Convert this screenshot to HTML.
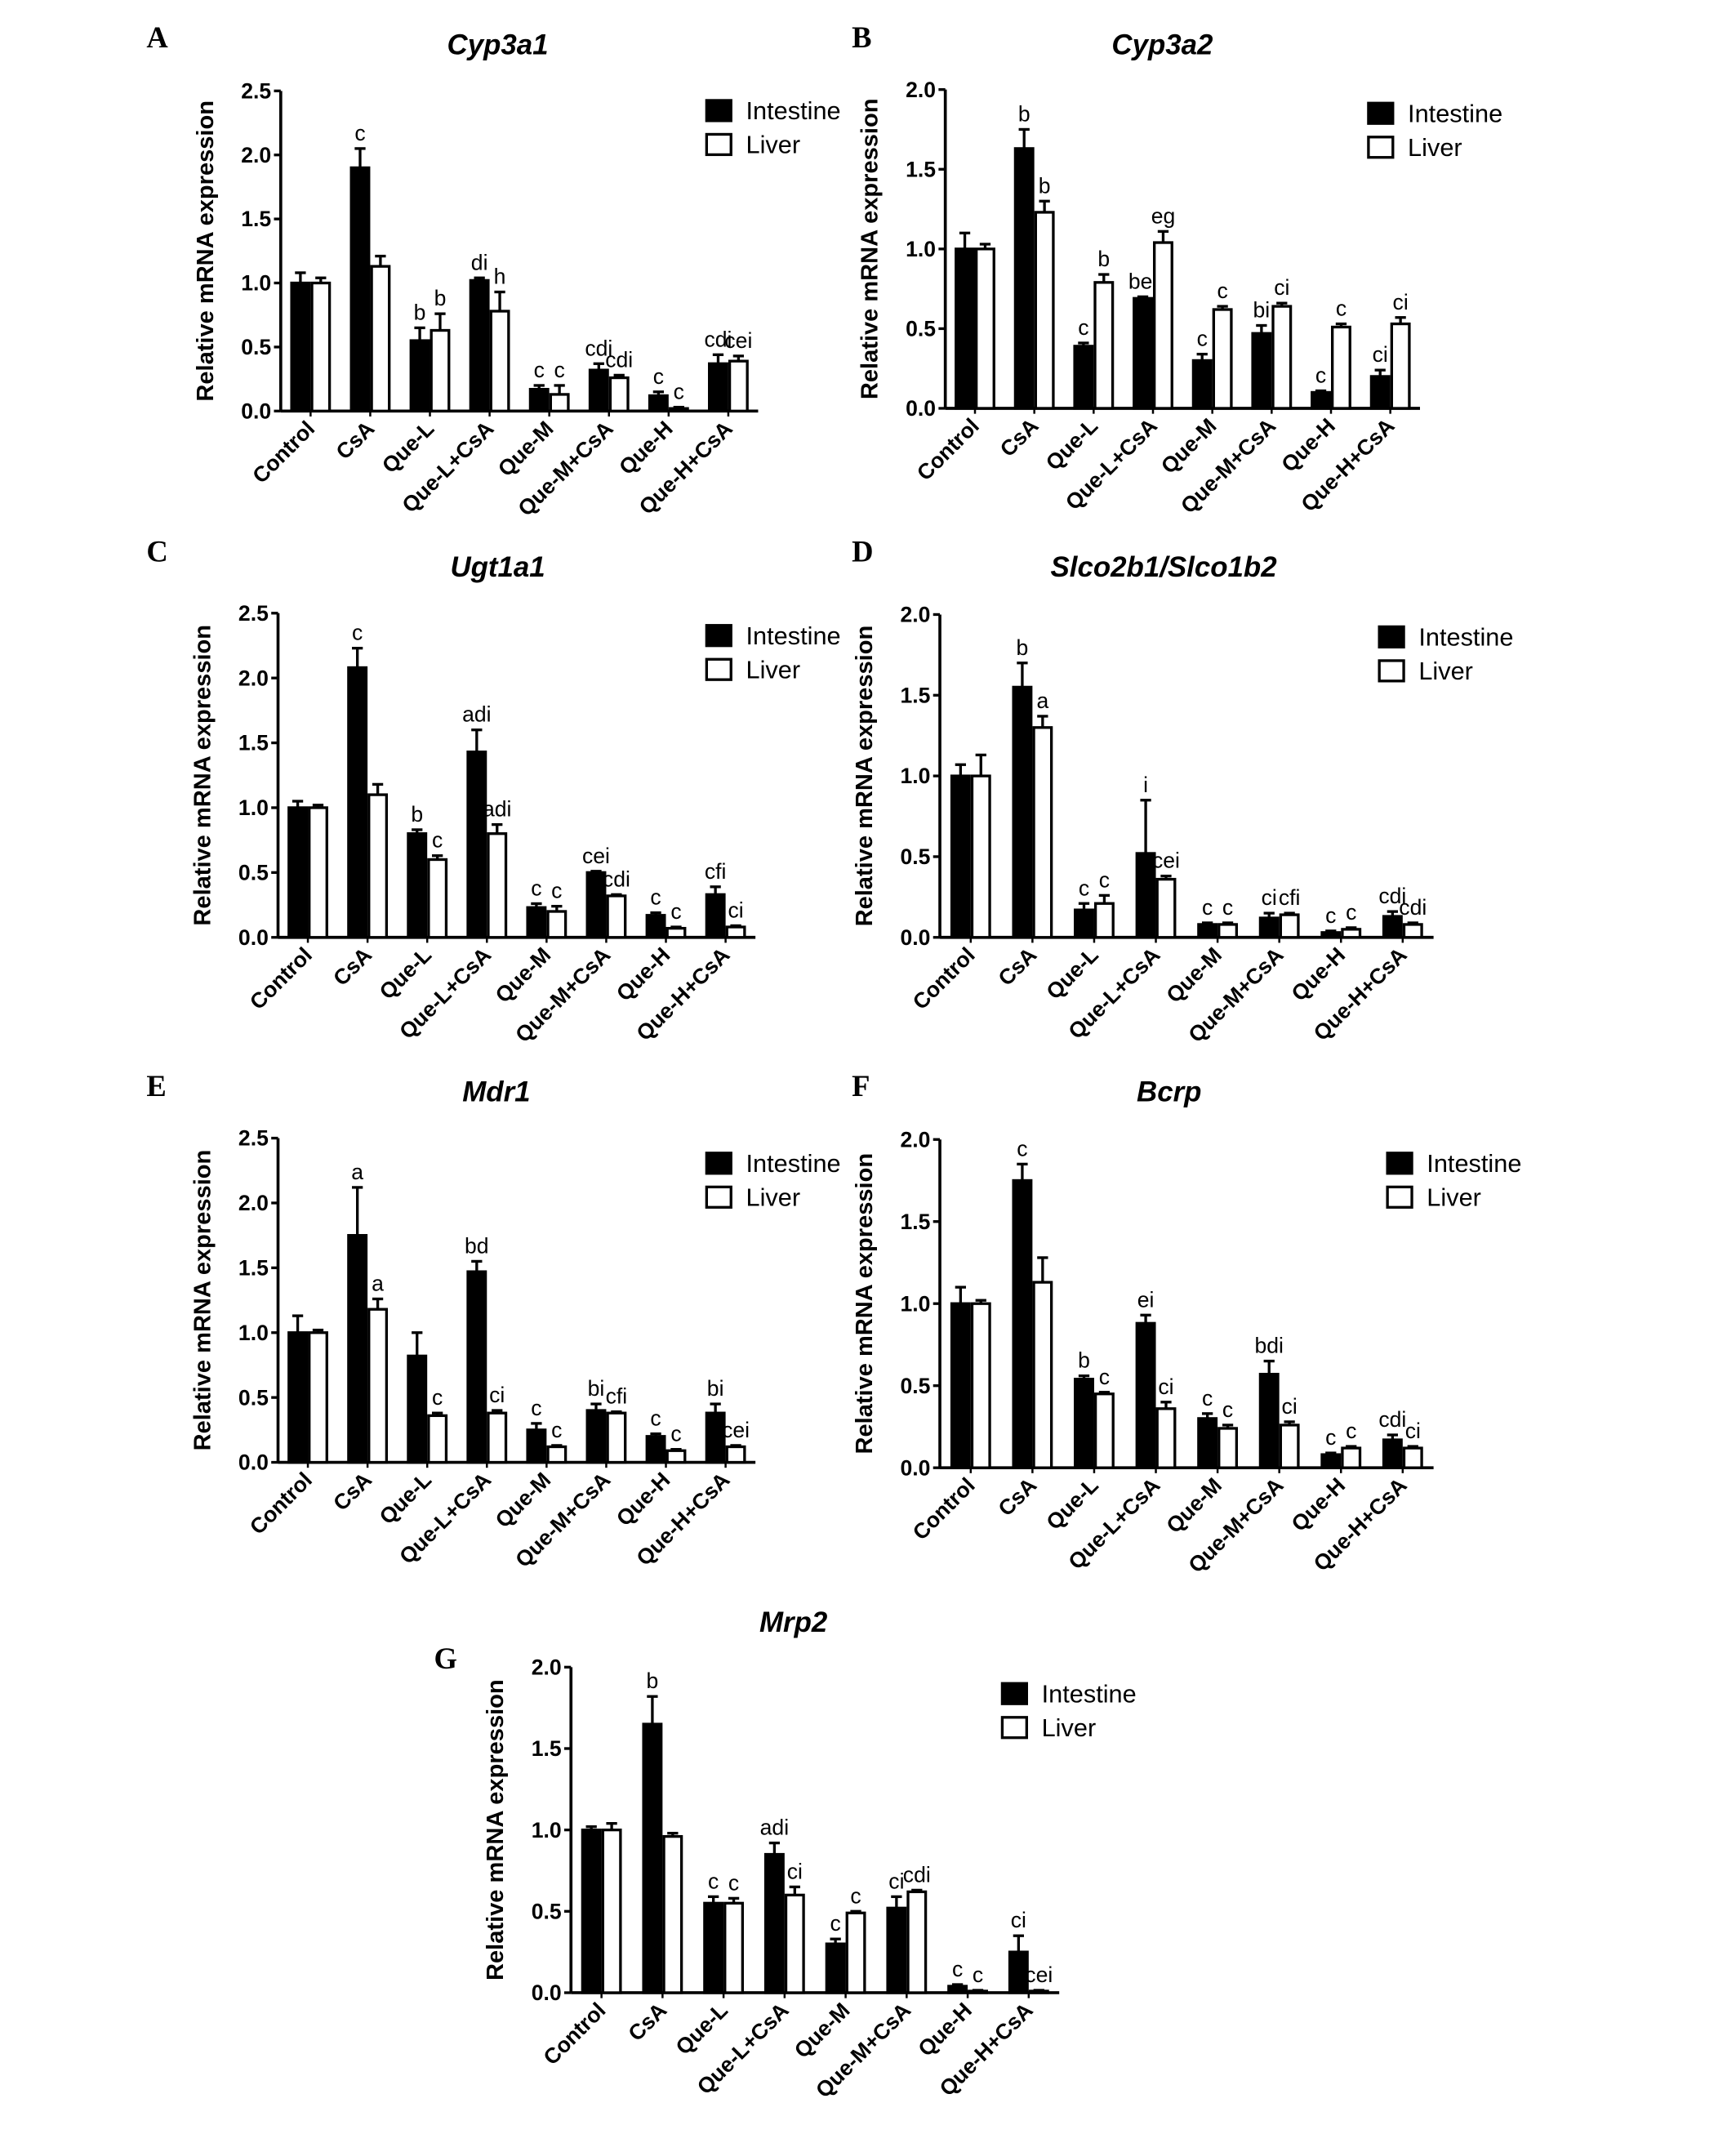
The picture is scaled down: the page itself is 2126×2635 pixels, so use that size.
<!DOCTYPE html>
<html><head><meta charset="utf-8">
<style>
html,body{margin:0;padding:0;background:#fff;}
svg{display:block;}
</style></head>
<body>
<svg id="fig" xmlns="http://www.w3.org/2000/svg" width="2126" height="2635" viewBox="0 0 1280 1586.4" font-family="Liberation Sans, Arial, sans-serif"></svg>
<script>
const categories=["Control","CsA","Que-L","Que-L+CsA","Que-M","Que-M+CsA","Que-H","Que-H+CsA"];
const titles=["Cyp3a1","Cyp3a2","Ugt1a1","Slco2b1/Slco1b2","Mdr1","Bcrp","Mrp2"];
const letters=["A","B","C","D","E","F","G"];
const yMaxes=[2.5,2.0,2.5,2.0,2.5,2.0,2.0];
const intestineVals=[
[1.0,1.9,0.55,1.02,0.17,0.32,0.12,0.37],
[1.0,1.63,0.39,0.69,0.3,0.47,0.1,0.2],
[1.0,2.08,0.8,1.43,0.23,0.5,0.17,0.33],
[1.0,1.55,0.17,0.52,0.08,0.12,0.03,0.13],
[1.0,1.75,0.82,1.47,0.25,0.4,0.2,0.38],
[1.0,1.75,0.54,0.88,0.3,0.57,0.08,0.17],
[1.0,1.65,0.55,0.85,0.3,0.52,0.04,0.25]];
const intestineErr=[
[0.08,0.15,0.1,0.02,0.03,0.05,0.03,0.07],
[0.1,0.12,0.02,0.01,0.04,0.05,0.01,0.04],
[0.05,0.15,0.03,0.17,0.03,0.01,0.02,0.06],
[0.07,0.15,0.04,0.33,0.01,0.03,0.01,0.03],
[0.13,0.37,0.18,0.08,0.05,0.05,0.02,0.07],
[0.1,0.1,0.02,0.05,0.03,0.08,0.01,0.03],
[0.02,0.17,0.04,0.07,0.03,0.07,0.01,0.1]];
const liverVals=[
[1.0,1.13,0.63,0.78,0.13,0.26,0.02,0.39],
[1.0,1.23,0.79,1.04,0.62,0.64,0.51,0.53],
[1.0,1.1,0.6,0.8,0.2,0.32,0.07,0.08],
[1.0,1.3,0.21,0.36,0.08,0.14,0.05,0.08],
[1.0,1.18,0.36,0.38,0.12,0.38,0.09,0.12],
[1.0,1.13,0.45,0.36,0.24,0.26,0.12,0.12],
[1.0,0.96,0.55,0.6,0.49,0.62,0.01,0.01]];
const liverErr=[
[0.04,0.08,0.13,0.15,0.07,0.02,0.01,0.04],
[0.03,0.07,0.05,0.07,0.02,0.02,0.02,0.04],
[0.02,0.08,0.03,0.07,0.04,0.01,0.01,0.01],
[0.13,0.07,0.05,0.02,0.01,0.01,0.01,0.01],
[0.02,0.08,0.02,0.02,0.01,0.01,0.01,0.01],
[0.02,0.15,0.01,0.04,0.02,0.02,0.01,0.01],
[0.04,0.02,0.03,0.05,0.01,0.01,0.005,0.005]];
const intestineSig=[
["","c","b","di","c","cdi","c","cdi"],
["","b","c","bei","c","bi","c","ci"],
["","c","b","adi","c","cei","c","cfi"],
["","b","c","i","c","ci","c","cdi"],
["","a","","bd","c","bi","c","bi"],
["","c","b","ei","c","bdi","c","cdi"],
["","b","c","adi","c","ci","c","ci"]];
const liverSig=[
["","","b","h","c","cdi","c","cei"],
["","b","b","eg","c","ci","c","ci"],
["","","c","adi","c","cdi","c","ci"],
["","a","c","cei","c","cfi","c","cdi"],
["","a","c","ci","c","cfi","c","cei"],
["","","c","ci","c","ci","c","ci"],
["","","c","ci","c","cdi","c","cei"]];
const layout=[
[207,67,303,559,367,33,108,27,520,73],
[697,66,301,1047,857,33,628,27,1008,75],
[205,452,691,557,367,418,108,406,520,460],
[693,453,691,1057,858,418,628,406,1016,461],
[205,839,1078,557,366,805,108,800,520,849],
[693,840,1082,1057,862,805,628,800,1022,849],
[421,1229,1469,781,585,1196,320,1222,738,1240]];

const NS="http://www.w3.org/2000/svg";
const svg=document.getElementById("fig");
function mk(tag,attrs,parent,txt){const e=document.createElementNS(NS,tag);for(const k in attrs)e.setAttribute(k,attrs[k]);if(txt!==undefined)e.textContent=txt;(parent||svg).appendChild(e);return e;}

for(let p=0;p<7;p++){
  const [ax,top,bot,axEnd,tx,ty,lx,ly,gx,gy]=layout[p];
  const g=mk("g",{});
  
  
  const ymax=yMaxes[p];
  const yS=v=>bot-(v/ymax)*(bot-top);
  const pitch=(axEnd-ax)/8;
  const xC=i=>ax+pitch*0.5+i*pitch;
  const bw=15;
  const L=mk("text",{x:lx,y:ly+8,style:"font-family:'Liberation Serif',serif;font-weight:bold;font-size:22px"},g,letters[p]);
  
  const T=mk("text",{x:tx,y:ty+7,"text-anchor":"middle","font-weight":"bold","font-style":"italic","font-size":21},g,titles[p]);
  
  const yl=mk("text",{transform:`translate(${ax-50},${(top+bot)/2}) rotate(-90)`,"text-anchor":"middle","font-weight":"bold","font-size":17.5},g,"Relative mRNA expression");
  
  const ya=mk("line",{x1:ax,y1:top,x2:ax,y2:bot,stroke:"#000","stroke-width":2.2},g);
  
  const xa=mk("line",{x1:ax,y1:bot,x2:axEnd,y2:bot,stroke:"#000","stroke-width":2.2},g);
  
  for(let v=0;v<=ymax+1e-9;v+=0.5){
    const y=yS(v);
    mk("line",{x1:ax-5,y1:y,x2:ax,y2:y,stroke:"#000","stroke-width":2},g);
    const t=mk("text",{x:ax-7,y:y+5.5,"text-anchor":"end","font-weight":"bold","font-size":16},g,v.toFixed(1));
    
  }
  for(let i=0;i<8;i++){
    const c=xC(i);
    mk("line",{x1:c,y1:bot,x2:c,y2:bot+4,stroke:"#000","stroke-width":1.5},g);
    const t=mk("text",{transform:`translate(${c+4},${bot+14}) rotate(-45)`,"text-anchor":"end","font-weight":"bold","font-size":16},g,categories[i]);
    
    const sets=[[intestineVals,intestineErr,intestineSig,c-bw,"#000","intestine"],[liverVals,liverErr,liverSig,c,"#fff","liver"]];
    for(const [V,E,S,x0,fill,nm] of sets){
      const v=V[p][i],e=E[p][i],yv=yS(v),ye=yS(v+e);
      const cx=x0+bw/2;
      mk("line",{x1:cx,y1:yv,x2:cx,y2:ye,stroke:"#000","stroke-width":2},g);
      mk("line",{x1:cx-4,y1:ye,x2:cx+4,y2:ye,stroke:"#000","stroke-width":2},g);
      const b=mk("rect",{x:x0+1,y:yv,width:bw-2,height:Math.max(bot-yv,0.5),fill:fill,stroke:"#000","stroke-width":2},g);
      
      if(S[p][i]){
        const s=mk("text",{x:cx,y:ye-6,"text-anchor":"middle","font-size":16},g,S[p][i]);
        
      }
    }
  }
  const lg=mk("g",{},g);
  
  mk("rect",{x:gx+1,y:gy+1,width:18,height:15,fill:"#000",stroke:"#000","stroke-width":2},lg);
  const t1=mk("text",{x:gx+30,y:gy+15,"font-size":18.5},lg,"Intestine");
  
  mk("rect",{x:gx+1,y:gy+26,width:18,height:15,fill:"#fff",stroke:"#000","stroke-width":2},lg);
  const t2=mk("text",{x:gx+30,y:gy+40,"font-size":18.5},lg,"Liver");
  
}
</script>
</body></html>
